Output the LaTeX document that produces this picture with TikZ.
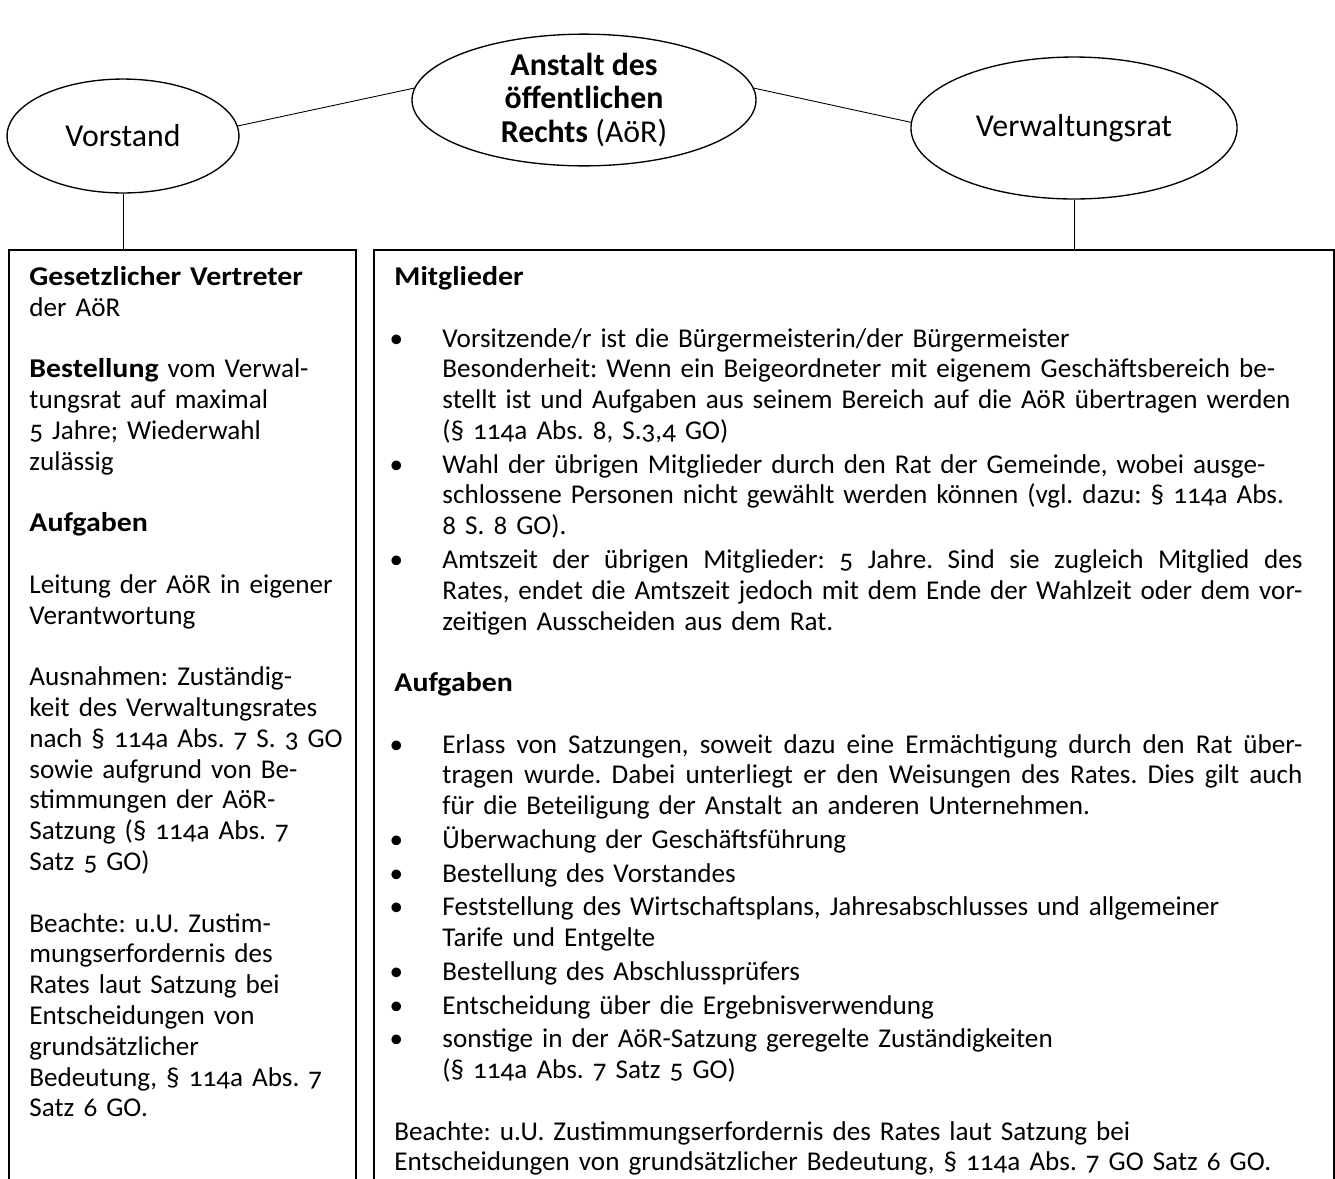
\documentclass[tikz,border=0pt]{standalone}
\usepackage{fontspec}
\setmainfont{Carlito}[Numbers=OldStyle,BoldFeatures={FakeStretch=1.1}]
\newfontfamily\ovalfont{Carlito}[Numbers=OldStyle]
\usetikzlibrary{shapes.geometric}
\setlength{\parindent}{0pt}
\makeatletter
\def\@listI{\leftmargin\leftmargini\parsep0pt\topsep0pt\partopsep0pt\itemsep1.3pt}
\let\@listi\@listI
\makeatother
\setlength{\leftmargini}{21.4pt}
\setlength{\labelsep}{17.5pt}
\newcommand{\fullline}[1]{{\spaceskip=\fontdimen2\font plus 1em minus 0.1em\relax
  \makebox[383.5pt][s]{#1}}}
\tikzset{
  oval/.style={draw,ellipse,line width=0.6pt,inner sep=0pt,align=center,
    font=\ovalfont\fontsize{14.2pt}{14.8pt}\selectfont},
  box/.style={draw,line width=0.8pt,anchor=north west,inner sep=0pt},
  txt/.style={anchor=north west,inner sep=0pt,align=left,
    font=\fontsize{12.1pt}{13.73pt}\selectfont\frenchspacing},
}
\begin{document}
\begin{tikzpicture}[x=0.4459pt,y=-0.4459pt]
\clip(0,0)rectangle(1335,1178);
% the three ovals
\node[oval,minimum width=103.4pt,minimum height=50.8pt](vorstand)at(123,136){Vorstand};
\node[oval,minimum width=153.4pt,minimum height=58pt](anstalt)at(584,100)
  {\textbf{Anstalt des}\\\textbf{öffentlichen}\\\textbf{Rechts} (AöR)};
\node[oval,minimum width=145.4pt,minimum height=63.3pt](rat)at(1074,128){Verwaltungsrat};
% the two boxes
\node[box,minimum width=154.7pt,minimum height=446pt](links)at(8,249){};
\node[box,minimum width=428.1pt,minimum height=446pt](rechts)at(373,249){};
\draw(vorstand.5)--(anstalt.176);
\draw(anstalt.4)--(rat.178);
\draw(vorstand.south)--(vorstand.south|-links.north);
\draw(rat.south)--(rat.south|-rechts.north);
% left box
\node[txt,text width=155pt](ltext)at(29,266){%
\textbf{Gesetzlicher Vertreter}\\
der AöR\par\mbox{}\par
\textbf{Bestellung} vom Verwal-\\
tungsrat auf maximal\\
5 Jahre; Wiederwahl\\
zulässig\par\mbox{}\par
\textbf{Aufgaben}\par\mbox{}\par
Leitung der AöR in eigener\\
Verantwortung\par\mbox{}\par
Ausnahmen: Zuständig-\\
keit des Verwaltungsrates\\
nach § 114a Abs. 7 S. 3 GO\\
sowie aufgrund von Be-\\
stimmungen der AöR-\\
Satzung (§ 114a Abs. 7\\
Satz 5 GO)\par\mbox{}\par
Beachte: u.U. Zustim-\\
mungserfordernis des\\
Rates laut Satzung bei\\
Entscheidungen von\\
grundsätzlicher\\
Bedeutung, § 114a Abs. 7\\
Satz 6 GO.};
% right box
\node[txt,text width=425pt](rtext)at(394,266){%
\textbf{Mitglieder}\par\mbox{}\par
\begin{itemize}
\item Vorsitzende/r ist die Bürgermeisterin/der Bürgermeister\\
Besonderheit: Wenn ein Beigeordneter mit eigenem Geschäftsbereich be-\\
stellt ist und Aufgaben aus seinem Bereich auf die AöR übertragen werden\\
(§ 114a Abs. 8, S.3,4 GO)
\item Wahl der übrigen Mitglieder durch den Rat der Gemeinde, wobei ausge-\\
schlossene Personen nicht gewählt werden können (vgl. dazu: § 114a Abs.\\
8 S. 8 GO).
\item \fullline{Amtszeit der übrigen Mitglieder: 5 Jahre. Sind sie zugleich Mitglied des}\\
\fullline{Rates, endet die Amtszeit jedoch mit dem Ende der Wahlzeit oder dem vor-}\\
zeitigen Ausscheiden aus dem Rat.
\end{itemize}
\mbox{}\par
\textbf{Aufgaben}\par\mbox{}\par
\begin{itemize}
\item \fullline{Erlass von Satzungen, soweit dazu eine Ermächtigung durch den Rat über-}\\
\fullline{tragen wurde. Dabei unterliegt er den Weisungen des Rates. Dies gilt auch}\\
für die Beteiligung der Anstalt an anderen Unternehmen.
\item Überwachung der Geschäftsführung
\item Bestellung des Vorstandes
\item Feststellung des Wirtschaftsplans, Jahresabschlusses und allgemeiner\\
Tarife und Entgelte
\item Bestellung des Abschlussprüfers
\item Entscheidung über die Ergebnisverwendung
\item sonstige in der AöR-Satzung geregelte Zuständigkeiten\\
(§ 114a Abs. 7 Satz 5 GO)
\end{itemize}
\mbox{}\par
Beachte: u.U. Zustimmungserfordernis des Rates laut Satzung bei\\
Entscheidungen von grundsätzlicher Bedeutung, § 114a Abs. 7 GO Satz 6 GO.};
\end{tikzpicture}
\end{document}
